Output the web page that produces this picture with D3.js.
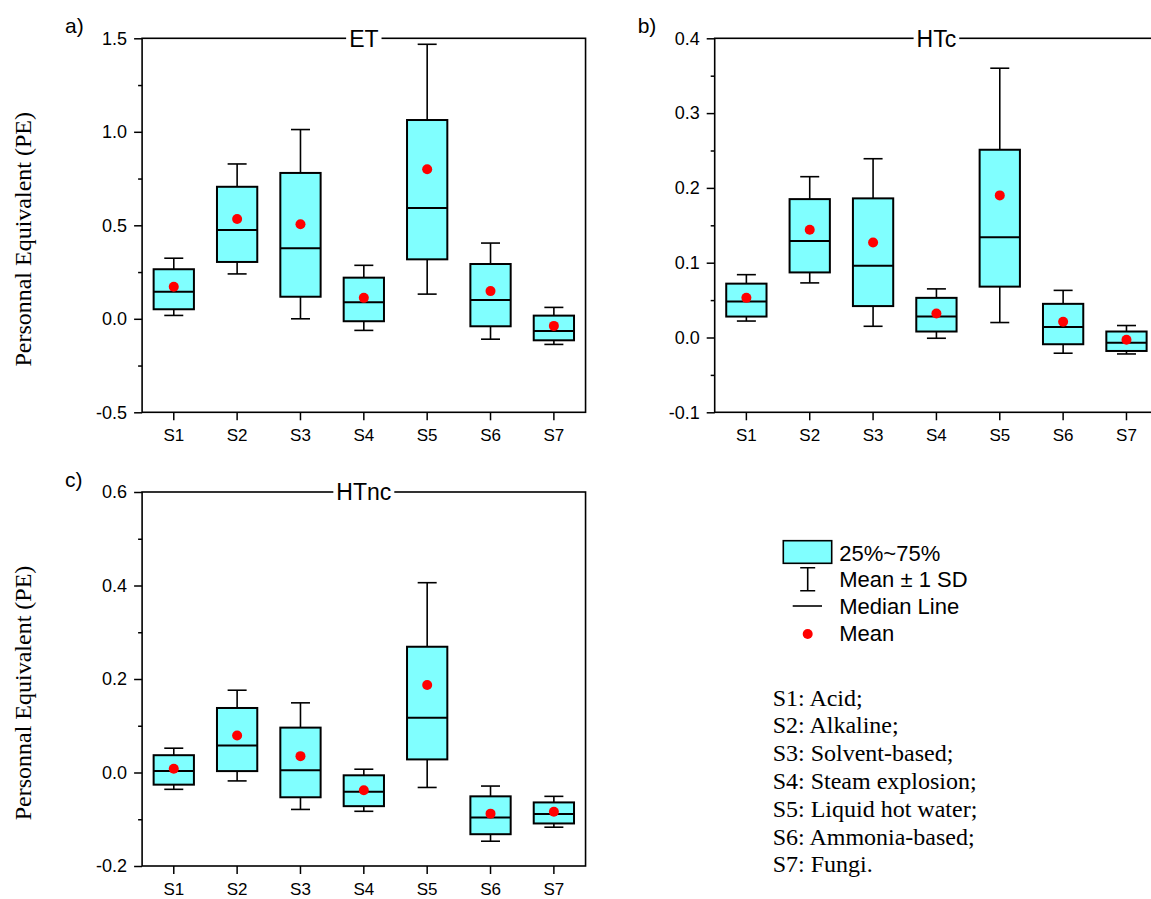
<!DOCTYPE html>
<html>
<head>
<meta charset="utf-8">
<script src="https://cdn.jsdelivr.net/npm/d3@7"></script>
<style>
  body { margin: 0; background: #fff; }
  svg { display: block; }
</style>
</head>
<body>
<div id="chart"></div>
<script>
// categories (pretreatment strategies)
const categories = ["S1", "S2", "S3", "S4", "S5", "S6", "S7"];
const strategyNames = ["S1: Acid;", "S2: Alkaline;", "S3: Solvent-based;", "S4: Steam explosion;",
    "S5: Liquid hot water;", "S6: Ammonia-based;", "S7: Fungi."];

// a) ET
const etMean = [0.171, 0.534, 0.506, 0.112, 0.800, 0.148, -0.038];
const etSd = [0.153, 0.294, 0.506, 0.174, 0.668, 0.257, 0.099];
const etQ1 = [0.051, 0.304, 0.118, -0.013, 0.318, -0.040, -0.115];
const etMedian = [0.145, 0.475, 0.377, 0.088, 0.593, 0.100, -0.065];
const etQ3 = [0.265, 0.706, 0.780, 0.220, 1.063, 0.293, 0.017];

// b) HTc
const htcMean = [0.053, 0.144, 0.127, 0.032, 0.190, 0.021, -0.003];
const htcSd = [0.031, 0.071, 0.112, 0.033, 0.170, 0.042, 0.019];
const htcQ1 = [0.028, 0.087, 0.042, 0.008, 0.068, -0.009, -0.018];
const htcMedian = [0.048, 0.129, 0.096, 0.028, 0.134, 0.014, -0.007];
const htcQ3 = [0.072, 0.185, 0.186, 0.053, 0.251, 0.045, 0.008];

// c) HTnc
const htncMean = [0.008, 0.079, 0.035, -0.038, 0.187, -0.088, -0.084];
const htncSd = [0.044, 0.097, 0.114, 0.045, 0.219, 0.059, 0.033];
const htncQ1 = [-0.026, 0.003, -0.053, -0.072, 0.028, -0.132, -0.109];
const htncMedian = [0.003, 0.058, 0.005, -0.041, 0.117, -0.096, -0.089];
const htncQ3 = [0.037, 0.138, 0.096, -0.006, 0.269, -0.051, -0.064];

// axis ticks
const etTicks = [-0.5, 0.0, 0.5, 1.0, 1.5];
const etMinor = [-0.25, 0.25, 0.75, 1.25];
const htcTicks = [-0.1, 0.0, 0.1, 0.2, 0.3, 0.4];
const htcMinor = [-0.05, 0.05, 0.15, 0.25, 0.35];
const htncTicks = [-0.2, 0.0, 0.2, 0.4, 0.6];
const htncMinor = [-0.1, 0.1, 0.3, 0.5];

const sans = "'Liberation Sans', Arial, sans-serif";
const serif = "'Liberation Serif', 'Times New Roman', serif";
const boxFill = "#80ffff";

const svg = d3.select("#chart").append("svg")
    .attr("width", 1151)
    .attr("height", 899);

function drawPanel(p){
    let step = 63.35;
    let x = d3.scaleBand()
        .domain(categories)
        .range([p.left, p.left + step * categories.length]);
    let y = d3.scaleLinear()
        .domain(d3.extent(p.ticks))
        .range([p.bottom, p.top]);
    let bw = x.bandwidth();
    let boxW = bw * 0.636, capW = bw * 0.3;

    let g = svg.append("g");

    // frame
    g.append("rect")
        .attr("x", p.left).attr("y", p.top)
        .attr("width", x.range()[1] - p.left)
        .attr("height", p.bottom - p.top)
        .attr("fill", "none")
        .attr("stroke", "#000")
        .attr("stroke-width", 1.6);

    // y axis, major + minor
    let yAxis = g.append("g")
        .attr("transform", "translate(" + p.left + ",0)")
        .call(d3.axisLeft(y).tickValues(p.ticks).tickSize(8).tickPadding(7)
            .tickFormat(d => d.toFixed(1)));
    g.append("g")
        .attr("transform", "translate(" + p.left + ",0)")
        .call(d3.axisLeft(y).tickValues(p.minor).tickSize(4).tickFormat(""));

    // x axis
    let xAxis = g.append("g")
        .attr("transform", "translate(0," + p.bottom + ")")
        .call(d3.axisBottom(x).tickSize(8).tickPadding(9));

    g.selectAll(".domain").remove();
    g.selectAll(".tick line").attr("stroke", "#000").attr("stroke-width", 1.5);
    yAxis.selectAll("text").style("font-family", sans).style("font-size", "18px").attr("fill", "#000");
    xAxis.selectAll("text").style("font-family", sans).style("font-size", "17px").attr("fill", "#000");

    let rows = categories.map((c, i) => ({
        c: c, mean: p.mean[i], sd: p.sd[i], q1: p.q1[i], med: p.median[i], q3: p.q3[i]
    }));

    let box = g.selectAll(".box")
        .data(rows)
        .enter()
        .append("g")
        .attr("class", "box")
        .attr("transform", d => "translate(" + (x(d.c) + bw / 2) + ",0)");

    box.append("line")
        .attr("x1", 0).attr("x2", 0)
        .attr("y1", d => y(d.mean - d.sd))
        .attr("y2", d => y(d.mean + d.sd))
        .attr("stroke", "#000").attr("stroke-width", 1.6);
    box.append("line")
        .attr("x1", -capW / 2).attr("x2", capW / 2)
        .attr("y1", d => y(d.mean + d.sd)).attr("y2", d => y(d.mean + d.sd))
        .attr("stroke", "#000").attr("stroke-width", 1.6);
    box.append("line")
        .attr("x1", -capW / 2).attr("x2", capW / 2)
        .attr("y1", d => y(d.mean - d.sd)).attr("y2", d => y(d.mean - d.sd))
        .attr("stroke", "#000").attr("stroke-width", 1.6);
    box.append("rect")
        .attr("x", -boxW / 2)
        .attr("width", boxW)
        .attr("y", d => y(d.q3))
        .attr("height", d => y(d.q1) - y(d.q3))
        .attr("fill", boxFill)
        .attr("stroke", "#000").attr("stroke-width", 2);
    box.append("line")
        .attr("x1", -boxW / 2).attr("x2", boxW / 2)
        .attr("y1", d => y(d.med)).attr("y2", d => y(d.med))
        .attr("stroke", "#000").attr("stroke-width", 2);
    box.append("circle")
        .attr("cx", 0)
        .attr("cy", d => y(d.mean))
        .attr("r", 5)
        .attr("fill", "#ff0000");

    // title sitting on the top frame line
    let cx = p.left + step * 3.5;
    let titleBg = g.append("rect").attr("fill", "#fff");
    let title = g.append("text")
        .attr("x", cx).attr("y", p.top)
        .attr("dy", "0.36em")
        .attr("text-anchor", "middle")
        .style("font-family", sans).style("font-size", "23px")
        .text(p.title);
    let bb = title.node().getBBox();
    titleBg.attr("x", bb.x - 3).attr("y", p.top - 3).attr("width", bb.width + 6).attr("height", 6);

    // panel letter
    g.append("text")
        .attr("x", p.left - 77).attr("y", p.top - 5)
        .style("font-family", sans).style("font-size", "21px")
        .text(p.letter);

    if(p.yLabel){
        g.append("text")
            .attr("transform", "translate(31," + ((p.top + p.bottom) / 2 + 14) + ") rotate(-90)")
            .attr("text-anchor", "middle")
            .style("font-family", serif).style("font-size", "24px")
            .text(p.yLabel);
    }
}

drawPanel({left: 142.1, top: 38.3, bottom: 412.3, ticks: etTicks, minor: etMinor,
    mean: etMean, sd: etSd, q1: etQ1, median: etMedian, q3: etQ3,
    title: "ET", letter: "a)", yLabel: "Personnal Equivalent (PE)"});
drawPanel({left: 714.7, top: 38.3, bottom: 412.3, ticks: htcTicks, minor: htcMinor,
    mean: htcMean, sd: htcSd, q1: htcQ1, median: htcMedian, q3: htcQ3,
    title: "HTc", letter: "b)", yLabel: null});
drawPanel({left: 142.1, top: 492, bottom: 866, ticks: htncTicks, minor: htncMinor,
    mean: htncMean, sd: htncSd, q1: htncQ1, median: htncMedian, q3: htncQ3,
    title: "HTnc", letter: "c)", yLabel: "Personnal Equivalent (PE)"});

// legend
let legend = svg.append("g");
legend.append("rect")
    .attr("x", 783.3).attr("y", 540.7).attr("width", 48.4).attr("height", 22.6)
    .attr("fill", boxFill).attr("stroke", "#000").attr("stroke-width", 1.6);
legend.append("path")
    .attr("d", "M800.2,567.7H815.2M807.7,567.7V590.7M800.2,590.7H815.2")
    .attr("fill", "none").attr("stroke", "#000").attr("stroke-width", 1.6);
legend.append("line")
    .attr("x1", 792.7).attr("x2", 822).attr("y1", 606).attr("y2", 606)
    .attr("stroke", "#000").attr("stroke-width", 1.6);
legend.append("circle")
    .attr("cx", 807.7).attr("cy", 634).attr("r", 5).attr("fill", "#ff0000");
legend.selectAll(".lt")
    .data(["25%~75%", "Mean \u00b1 1 SD", "Median Line", "Mean"])
    .enter()
    .append("text")
    .attr("class", "lt")
    .attr("x", 839.3)
    .attr("y", (d, i) => [553, 579, 606, 633][i])
    .attr("dy", "0.36em")
    .style("font-family", sans).style("font-size", "22px")
    .text(d => d);

legend.selectAll(".st")
    .data(strategyNames)
    .enter()
    .append("text")
    .attr("class", "st")
    .attr("x", 772.7)
    .attr("y", (d, i) => 705.5 + i * 27.8)
    .style("font-family", serif).style("font-size", "24px")
    .text(d => d);
</script>
</body>
</html>
